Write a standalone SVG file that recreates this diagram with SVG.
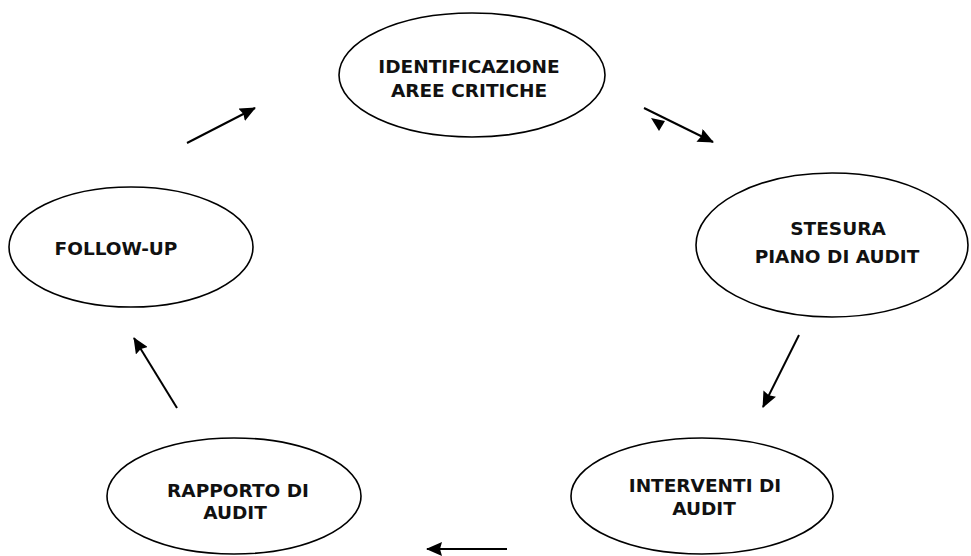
<svg xmlns="http://www.w3.org/2000/svg" width="971" height="556" viewBox="0 0 971 556">
<style>
.node ellipse{fill:#fff;stroke:#000;stroke-width:1.6}
.node text{font-family:"DejaVu Sans","Verdana",sans-serif;font-weight:bold;font-size:18.5px;fill:#111;text-anchor:middle}
.conn line{stroke:#000;stroke-width:2}
</style>
<defs>
<marker id="ah" markerUnits="userSpaceOnUse" markerWidth="16" markerHeight="14" refX="15" refY="7" orient="auto">
<path d="M0,0 L16,7 L0,14 L2,7 Z" fill="#000"/>
</marker>
</defs>
<rect width="971" height="556" fill="#fff"/>
<g id="identificazione" class="node">
<ellipse cx="472" cy="75" rx="133" ry="62"/>
<text x="469" y="73">IDENTIFICAZIONE</text>
<text x="469" y="97">AREE CRITICHE</text>
</g>
<g id="stesura" class="node">
<ellipse cx="832" cy="245" rx="136" ry="72"/>
<text x="838" y="235">STESURA</text>
<text x="837" y="263">PIANO DI AUDIT</text>
</g>
<g id="interventi" class="node">
<ellipse cx="702" cy="496" rx="131" ry="58"/>
<text x="705" y="492">INTERVENTI DI</text>
<text x="704" y="515">AUDIT</text>
</g>
<g id="rapporto" class="node">
<ellipse cx="234" cy="496" rx="127" ry="58"/>
<text x="238" y="497">RAPPORTO DI</text>
<text x="235" y="519">AUDIT</text>
</g>
<g id="followup" class="node">
<ellipse cx="131" cy="247" rx="122" ry="60"/>
<text x="116" y="255">FOLLOW-UP</text>
</g>
<g id="connectors" class="conn">
<line x1="187" y1="143" x2="255" y2="108" marker-end="url(#ah)"/>
<line x1="644" y1="108" x2="713" y2="142" marker-end="url(#ah)"/>
<path d="M651,118 L665,121 L659,131 Z" fill="#000"/>
<line x1="799" y1="335" x2="763" y2="407" marker-end="url(#ah)"/>
<line x1="507" y1="549" x2="427" y2="549" marker-end="url(#ah)"/>
<line x1="177" y1="408" x2="134" y2="338" marker-end="url(#ah)"/>
</g>
</svg>
